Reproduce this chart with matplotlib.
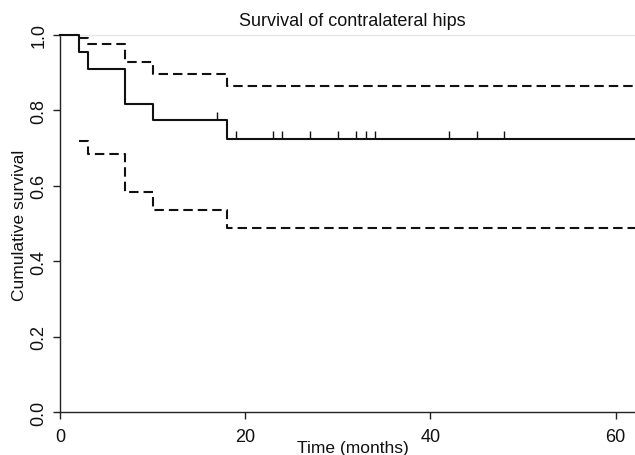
import numpy as np
import matplotlib
matplotlib.use("Agg")
import matplotlib.pyplot as plt

plt.rcParams['font.family'] = ['Liberation Sans', 'DejaVu Sans']
plt.rcParams['lines.scale_dashes'] = False

# Kaplan-Meier estimate (step, post)
surv_times = [0, 2, 3, 7, 10, 18, 62.1]
surv_vals = [1.0, 0.955, 0.909, 0.818, 0.773, 0.724, 0.724]

upper_times = [2, 3, 7, 10, 18, 62.1]
upper_vals = [0.991, 0.976, 0.929, 0.897, 0.865, 0.865]

lower_times = [2, 3, 7, 10, 18, 62.1]
lower_vals = [0.718, 0.684, 0.584, 0.537, 0.488, 0.488]

censor_times = [17, 19, 23, 24, 27, 30, 32, 33, 34, 42, 45, 48]

x_ticks = [0, 20, 40, 60]
y_ticks = [0.0, 0.2, 0.4, 0.6, 0.8, 1.0]

W, H = 635, 456
fig = plt.figure(figsize=(W / 100, H / 100), dpi=100)
ax = fig.add_axes([60 / W, 1 - 413.3 / H, 575 / W, 377.5 / H])

col = '#111111'
ax.step(surv_times, surv_vals, where='post', color=col, lw=1.5, clip_on=False, zorder=3)
ax.step(upper_times, upper_vals, where='post', color=col, lw=1.5, linestyle=(0, (6.8, 3.6)), clip_on=False)
ax.step(lower_times, lower_vals, where='post', color=col, lw=1.5, linestyle=(0, (6.8, 3.6)), clip_on=False)

# censor marks
idx = np.searchsorted(surv_times, censor_times, side='right') - 1
cvals = np.array(surv_vals)[idx]
ax.vlines(censor_times, cvals, cvals + 0.022, color=col, lw=1.0)

ax.set_xlim(0, 62.1)
ax.set_ylim(0, 1.0)
ax.set_xticks(x_ticks)
ax.set_xticklabels([str(t) for t in x_ticks])
ax.set_yticks(y_ticks)
ax.set_yticklabels([f"{t:.1f}" for t in y_ticks], rotation=90, va='center')

for s in ['left', 'bottom']:
    ax.spines[s].set_color('#222222')
    ax.spines[s].set_linewidth(1.0)
ax.spines['top'].set_color('#e6e6e6')
ax.spines['top'].set_linewidth(1.0)
ax.spines['right'].set_visible(False)

ax.tick_params(direction='out', length=5, width=1.0, color='#222222',
               labelsize=13, labelcolor='#111111')
ax.tick_params(axis='x', pad=6)
ax.tick_params(axis='y', pad=4)

fig.text(352 / W, 1 - 21.5 / H, 'Survival of contralateral hips', ha='center', va='center',
         fontsize=13, color='#111111')
fig.text(353 / W, 1 - 449 / H, 'Time (months)', ha='center', va='center',
         fontsize=12.5, color='#111111')
fig.text(20 / W, 1 - 225 / H, 'Cumulative survival', ha='center', va='center',
         rotation=90, fontsize=12.5, color='#111111')

fig.savefig('out.png', dpi=100)
